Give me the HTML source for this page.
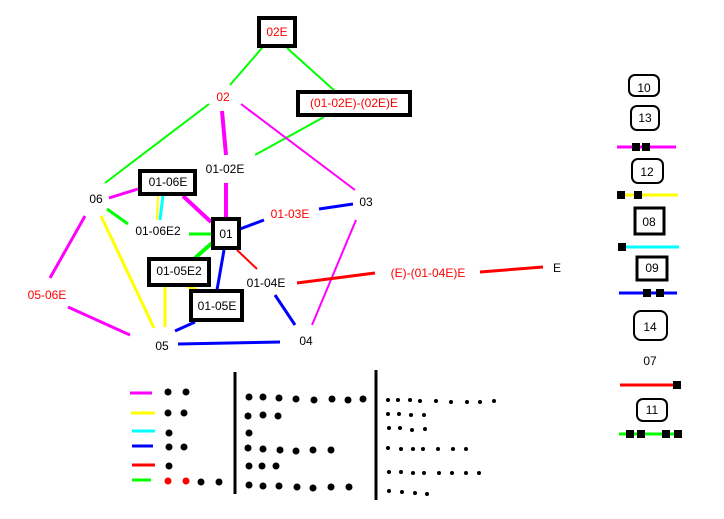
<!DOCTYPE html>
<html><head><meta charset="utf-8"><style>
html,body{margin:0;padding:0;background:#fff;}
svg{display:block;}
text{font-family:"Liberation Sans",sans-serif;font-size:12px;text-anchor:middle;dominant-baseline:central;}
.r{fill:#f00}
</style></head><body>
<svg width="724" height="519" viewBox="0 0 724 519" xmlns="http://www.w3.org/2000/svg">
<g stroke-linecap="butt" fill="none">
<g stroke="#0f0" stroke-width="2">
<line x1="262" y1="48" x2="230" y2="85"/><line x1="287" y1="48" x2="336" y2="92"/>
<line x1="209" y1="104" x2="105" y2="183"/><line x1="324" y1="117" x2="255" y2="155"/>
<line x1="107" y1="209" x2="128" y2="224" stroke-width="3"/><line x1="189" y1="234" x2="211" y2="234" stroke-width="3"/>
<line x1="212" y1="243" x2="195" y2="258" stroke-width="4"/>
</g>
<g stroke="#f0f" stroke-width="2">
<line x1="241" y1="104" x2="355" y2="190"/><line x1="222" y1="111" x2="226" y2="155" stroke-width="4"/>
<line x1="226" y1="183" x2="226" y2="218" stroke-width="4"/><line x1="109" y1="198" x2="138" y2="189" stroke-width="3"/>
<line x1="183" y1="196" x2="211" y2="222" stroke-width="4"/><line x1="85" y1="216" x2="50" y2="278" stroke-width="3"/>
<line x1="68" y1="307" x2="130" y2="335" stroke-width="3"/><line x1="356" y1="220" x2="312" y2="325" stroke-width="2"/>
</g>
<line x1="158" y1="196" x2="157" y2="220" stroke="#ff0" stroke-width="2"/>
<line x1="163" y1="195" x2="160" y2="220" stroke="#0ff" stroke-width="3"/>
<g stroke="#00f" stroke-width="3">
<line x1="240" y1="229" x2="264" y2="220"/><line x1="319" y1="209" x2="353" y2="204"/>
<line x1="224" y1="250" x2="217" y2="290"/><line x1="275" y1="295" x2="295" y2="325"/>
<line x1="175" y1="331" x2="195" y2="322"/><line x1="178" y1="344" x2="280" y2="342"/>
</g>
<g stroke="#f00" stroke-width="3">
<line x1="237" y1="250" x2="257" y2="269" stroke-width="2"/><line x1="297" y1="283" x2="375" y2="273"/>
<line x1="480" y1="272" x2="543" y2="267"/>
</g>
<g stroke="#ff0" stroke-width="3">
<line x1="101" y1="216" x2="154" y2="328"/><line x1="165" y1="286" x2="165" y2="327"/>
<line x1="187" y1="285" x2="197" y2="291" stroke-width="4"/>
</g>
<g stroke="#000" stroke-width="4" fill="#fff">
<rect x="259" y="18" width="36" height="28"/><rect x="298" y="92" width="112" height="23"/>
<rect x="140" y="171" width="55" height="23"/><rect x="213" y="219" width="26" height="29"/>
<rect x="149" y="259" width="60" height="26"/><rect x="191" y="291" width="51" height="29"/>
</g>
</g>
<text x="277" y="32" class="r">02E</text>
<text x="223" y="97" class="r">02</text>
<text x="354" y="103" class="r">(01-02E)-(02E)E</text>
<text x="225" y="169">01-02E</text>
<text x="96" y="199">06</text>
<text x="168" y="182">01-06E</text>
<text x="158" y="231">01-06E2</text>
<text x="226" y="234">01</text>
<text x="290" y="214" class="r">01-03E</text>
<text x="366" y="202">03</text>
<text x="179" y="271">01-05E2</text>
<text x="217" y="306">01-05E</text>
<text x="266" y="283">01-04E</text>
<text x="47" y="295" class="r">05-06E</text>
<text x="162" y="346">05</text>
<text x="306" y="341">04</text>
<text x="428" y="273" class="r">(E)-(01-04E)E</text>
<text x="557" y="268">E</text>
<!-- bottom legend -->
<g stroke-width="3">
<line x1="130" y1="393" x2="152" y2="393" stroke="#f0f"/>
<line x1="131" y1="413" x2="155" y2="413" stroke="#ff0"/>
<line x1="132" y1="431" x2="155" y2="431" stroke="#0ff"/>
<line x1="132" y1="446" x2="153" y2="446" stroke="#00f"/>
<line x1="132" y1="465" x2="155" y2="465" stroke="#f00"/>
<line x1="132" y1="480" x2="151" y2="480" stroke="#0f0"/>
<line x1="235" y1="372" x2="235" y2="494" stroke="#000"/>
<line x1="376" y1="370" x2="376" y2="500" stroke="#000"/>
</g>
<g fill="#000">
<circle cx="168" cy="392" r="3.5"/><circle cx="186" cy="392" r="3.5"/>
<circle cx="168" cy="413" r="3.5"/><circle cx="184" cy="413" r="3.5"/>
<circle cx="169" cy="433" r="3.5"/>
<circle cx="169" cy="447" r="3.5"/><circle cx="184" cy="447" r="3.5"/>
<circle cx="169" cy="466" r="3.5"/>
<circle cx="168" cy="481" r="3.5" fill="#f00"/><circle cx="186" cy="481" r="3.5" fill="#f00"/>
<circle cx="201" cy="482" r="3.5"/><circle cx="219" cy="482" r="3.5"/>
<circle cx="249" cy="397" r="3.5"/><circle cx="263" cy="397" r="3.5"/><circle cx="279" cy="398" r="3.5"/><circle cx="296" cy="399" r="3.5"/><circle cx="314" cy="400" r="3.5"/><circle cx="332" cy="399" r="3.5"/><circle cx="348" cy="400" r="3.5"/><circle cx="363" cy="399" r="3.5"/>
<circle cx="248" cy="416" r="3.5"/><circle cx="263" cy="415" r="3.5"/><circle cx="278" cy="416" r="3.5"/>
<circle cx="249" cy="433" r="3.5"/>
<circle cx="248" cy="448" r="3.5"/><circle cx="263" cy="449" r="3.5"/><circle cx="280" cy="450" r="3.5"/><circle cx="296" cy="451" r="3.5"/><circle cx="313" cy="450" r="3.5"/><circle cx="331" cy="450" r="3.5"/>
<circle cx="249" cy="466" r="3.5"/><circle cx="262" cy="466" r="3.5"/><circle cx="276" cy="466" r="3.5"/>
<circle cx="249" cy="485" r="3.5"/><circle cx="263" cy="486" r="3.5"/><circle cx="279" cy="486" r="3.5"/><circle cx="297" cy="487" r="3.5"/><circle cx="313" cy="488" r="3.5"/><circle cx="331" cy="487" r="3.5"/><circle cx="349" cy="487" r="3.5"/>
<g>
<circle cx="388" cy="400" r="2"/><circle cx="398" cy="400" r="2"/><circle cx="410" cy="400" r="2"/><circle cx="420" cy="401" r="2"/><circle cx="436" cy="401" r="2"/><circle cx="451" cy="402" r="2"/><circle cx="467" cy="402" r="2"/><circle cx="480" cy="402" r="2"/><circle cx="494" cy="401" r="2"/>
<circle cx="388" cy="414" r="2"/><circle cx="399" cy="414" r="2"/><circle cx="411" cy="415" r="2"/><circle cx="424" cy="415" r="2"/>
<circle cx="389" cy="428" r="2"/><circle cx="400" cy="428" r="2"/><circle cx="412" cy="430" r="2"/><circle cx="425" cy="429" r="2"/>
<circle cx="388" cy="448" r="2"/><circle cx="401" cy="449" r="2"/><circle cx="413" cy="449" r="2"/><circle cx="423" cy="449" r="2"/><circle cx="438" cy="449" r="2"/><circle cx="453" cy="449" r="2"/><circle cx="466" cy="449" r="2"/>
<circle cx="389" cy="472" r="2"/><circle cx="401" cy="472" r="2"/><circle cx="413" cy="473" r="2"/><circle cx="424" cy="473" r="2"/><circle cx="439" cy="473" r="2"/><circle cx="452" cy="473" r="2"/><circle cx="466" cy="473" r="2"/><circle cx="479" cy="473" r="2"/>
<circle cx="389" cy="491" r="2"/><circle cx="402" cy="492" r="2"/><circle cx="415" cy="493" r="2"/><circle cx="427" cy="494" r="2"/>
</g>
</g>
<!-- right legend -->
<g fill="#fff" stroke="#000" stroke-width="2">
<rect x="629" y="75" width="30" height="21" rx="6"/>
<rect x="631" y="106" width="28" height="24" rx="6"/>
<rect x="632" y="159" width="31" height="24" rx="6"/>
<rect x="634" y="311" width="33" height="29" rx="7"/>
<rect x="637" y="399" width="30" height="22" rx="6"/>
<rect x="635" y="208" width="29" height="26" stroke-width="3"/>
<rect x="637" y="257" width="30" height="23" stroke-width="3"/>
</g>
<text x="644" y="88">10</text><text x="645" y="118">13</text><text x="647" y="172">12</text>
<text x="649" y="222">08</text><text x="652" y="268">09</text><text x="650" y="327">14</text>
<text x="650" y="361">07</text><text x="652" y="410">11</text>
<g stroke-width="3">
<line x1="617" y1="147" x2="676" y2="147" stroke="#f0f"/>
<line x1="617" y1="195" x2="678" y2="195" stroke="#ff0"/>
<line x1="618" y1="247" x2="679" y2="247" stroke="#0ff"/>
<line x1="619" y1="293" x2="677" y2="293" stroke="#00f"/>
<line x1="620" y1="385" x2="680" y2="385" stroke="#f00"/>
<line x1="619" y1="434" x2="681" y2="434" stroke="#0f0"/>
</g>
<g fill="#000">
<rect x="632" y="143" width="8" height="8"/><rect x="642" y="143" width="8" height="8"/>
<rect x="617" y="191" width="8" height="8"/><rect x="634" y="191" width="8" height="8"/>
<rect x="618" y="243" width="8" height="8"/>
<rect x="643" y="289" width="8" height="8"/><rect x="656" y="289" width="8" height="8"/>
<rect x="673" y="381" width="8" height="8"/>
<rect x="626" y="430" width="8" height="8"/><rect x="637" y="430" width="8" height="8"/><rect x="662" y="430" width="8" height="8"/><rect x="674" y="430" width="8" height="8"/>
</g>
</svg>
</body></html>
